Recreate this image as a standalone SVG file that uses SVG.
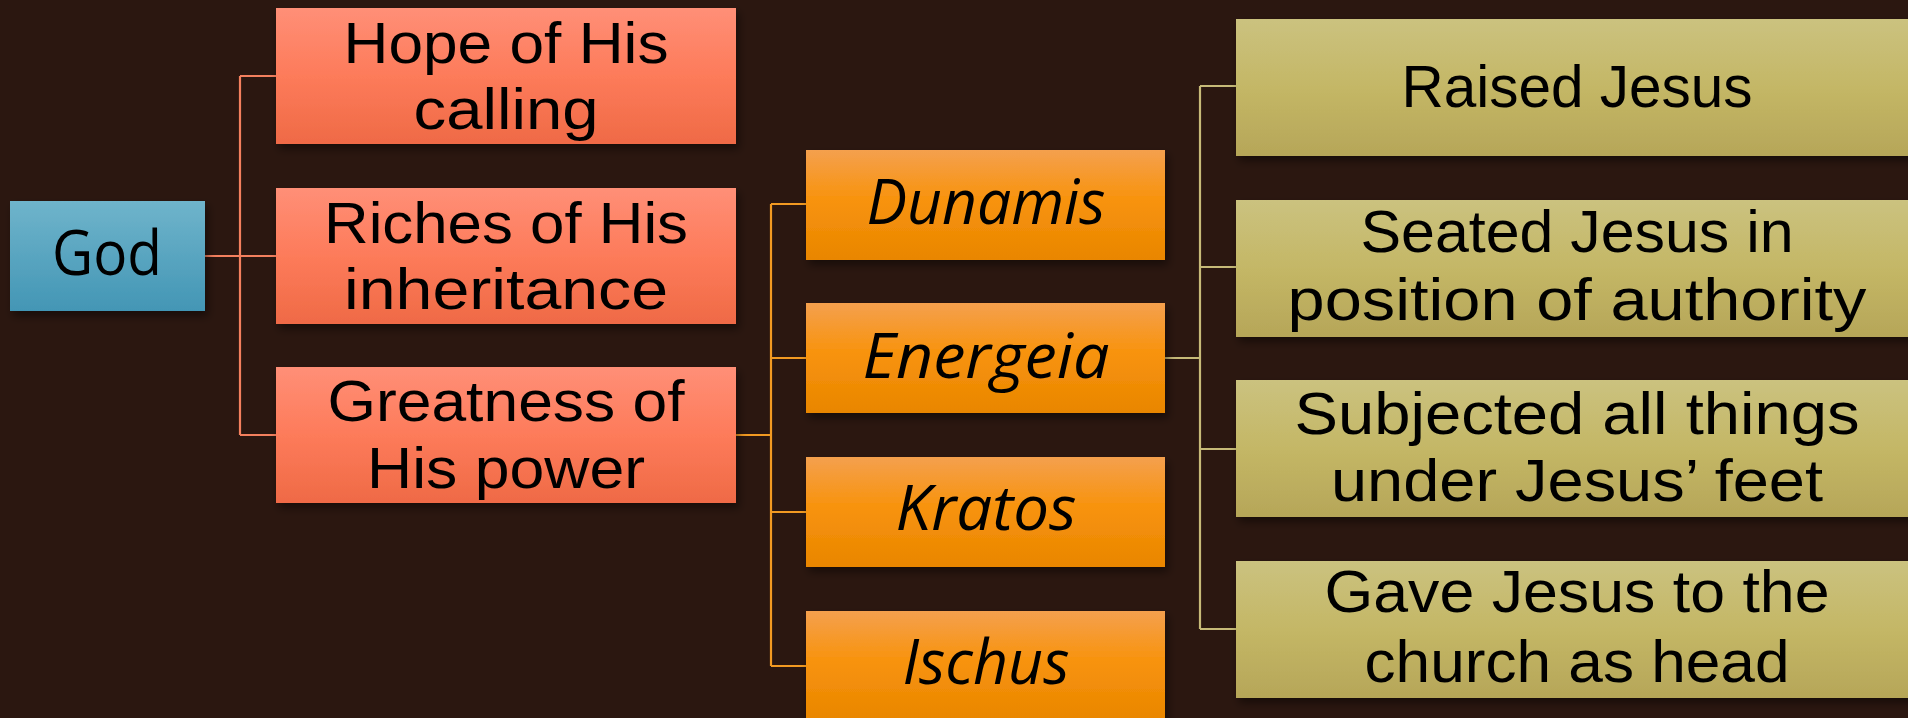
<svg xmlns="http://www.w3.org/2000/svg" width="1908" height="718" viewBox="0 0 1908 718">
<defs>
<linearGradient id="gBlue" x1="0" y1="0" x2="0" y2="1"><stop offset="0" stop-color="#6fb4cb"/><stop offset="1" stop-color="#4396b5"/></linearGradient>
<linearGradient id="gSalmon" x1="0" y1="0" x2="0" y2="1"><stop offset="0" stop-color="#ff8f77"/><stop offset="0.5" stop-color="#fd7b5a"/><stop offset="1" stop-color="#ef6a46"/></linearGradient>
<linearGradient id="gOrange" x1="0" y1="0" x2="0" y2="1"><stop offset="0" stop-color="#f4a04e"/><stop offset="0.45" stop-color="#f8930d"/><stop offset="1" stop-color="#e98600"/></linearGradient>
<linearGradient id="gOlive" x1="0" y1="0" x2="0" y2="1"><stop offset="0" stop-color="#cbc27f"/><stop offset="0.5" stop-color="#c4b766"/><stop offset="1" stop-color="#b6a658"/></linearGradient>
<filter id="sh" x="-10%" y="-10%" width="125%" height="135%"><feDropShadow dx="3" dy="5" stdDeviation="4" flood-color="#000" flood-opacity="0.45"/></filter>
</defs>
<style>
.t{font-family:"Open Sans","DejaVu Sans",sans-serif;fill:#000;text-anchor:middle}
.m{font-family:"Liberation Sans","Arial",sans-serif}
.l{font-size:57px}
.i{font-size:62px;font-style:italic}
.r{font-size:60px}
.c{fill:none;stroke-width:2.2}
.cs{stroke:#f4805e}
.co{stroke:#f29a22}
.cv{stroke:#c7ba78}
</style>
<rect width="1908" height="718" fill="#2b1710"/>
<g id="connectors">
<path class="c cs" d="M205 256H240M240 76V435M240 76H276M240 256H276M240 435H276"/>
<path class="c co" d="M736 435H771M771 204V666M771 204H806M771 358H806M771 512H806M771 666H806"/>
<path class="c cv" d="M1165 358H1200M1200 86V629M1200 86H1236M1200 267H1236M1200 449H1236M1200 629H1236"/>
</g>
<g id="god"><rect x="10" y="201" width="195" height="110" fill="url(#gBlue)" filter="url(#sh)"/><text class="t" x="107" y="275" font-size="62" textLength="110" lengthAdjust="spacingAndGlyphs">God</text></g>
<g id="hope"><rect x="276" y="8" width="460" height="136" fill="url(#gSalmon)" filter="url(#sh)"/><text class="t m l" x="506" y="63" textLength="325" lengthAdjust="spacingAndGlyphs">Hope of His</text><text class="t m l" x="506" y="129" textLength="185" lengthAdjust="spacingAndGlyphs">calling</text></g>
<g id="riches"><rect x="276" y="188" width="460" height="136" fill="url(#gSalmon)" filter="url(#sh)"/><text class="t m l" x="506" y="243" textLength="364" lengthAdjust="spacingAndGlyphs">Riches of His</text><text class="t m l" x="506" y="309" textLength="324" lengthAdjust="spacingAndGlyphs">inheritance</text></g>
<g id="greatness"><rect x="276" y="367" width="460" height="136" fill="url(#gSalmon)" filter="url(#sh)"/><text class="t m l" x="506" y="421" textLength="357" lengthAdjust="spacingAndGlyphs">Greatness of</text><text class="t m l" x="506" y="488" textLength="278" lengthAdjust="spacingAndGlyphs">His power</text></g>
<g id="dunamis"><rect x="806" y="150" width="359" height="110" fill="url(#gOrange)" filter="url(#sh)"/><text class="t i" x="986" y="224" textLength="239" lengthAdjust="spacingAndGlyphs">Dunamis</text></g>
<g id="energeia"><rect x="806" y="303" width="359" height="110" fill="url(#gOrange)" filter="url(#sh)"/><text class="t i" x="986" y="378" textLength="247" lengthAdjust="spacingAndGlyphs">Energeia</text></g>
<g id="kratos"><rect x="806" y="457" width="359" height="110" fill="url(#gOrange)" filter="url(#sh)"/><text class="t i" x="986" y="530" textLength="181" lengthAdjust="spacingAndGlyphs">Kratos</text></g>
<g id="ischus"><rect x="806" y="611" width="359" height="110" fill="url(#gOrange)" filter="url(#sh)"/><text class="t i" x="986" y="684" textLength="167" lengthAdjust="spacingAndGlyphs">Ischus</text></g>
<g id="raised"><rect x="1236" y="19" width="682" height="137" fill="url(#gOlive)" filter="url(#sh)"/><text class="t m r" x="1577" y="107" font-size="63" textLength="351" lengthAdjust="spacingAndGlyphs">Raised Jesus</text></g>
<g id="seated"><rect x="1236" y="200" width="682" height="137" fill="url(#gOlive)" filter="url(#sh)"/><text class="t m r" x="1577" y="252" textLength="433" lengthAdjust="spacingAndGlyphs">Seated Jesus in</text><text class="t m r" x="1577" y="320" textLength="579" lengthAdjust="spacingAndGlyphs">position of authority</text></g>
<g id="subjected"><rect x="1236" y="380" width="682" height="137" fill="url(#gOlive)" filter="url(#sh)"/><text class="t m r" x="1577" y="434" textLength="565" lengthAdjust="spacingAndGlyphs">Subjected all things</text><text class="t m r" x="1577" y="501" textLength="492" lengthAdjust="spacingAndGlyphs">under Jesus’ feet</text></g>
<g id="gave"><rect x="1236" y="561" width="682" height="137" fill="url(#gOlive)" filter="url(#sh)"/><text class="t m r" x="1577" y="612" textLength="505" lengthAdjust="spacingAndGlyphs">Gave Jesus to the</text><text class="t m r" x="1577" y="682" textLength="425" lengthAdjust="spacingAndGlyphs">church as head</text></g>
</svg>
